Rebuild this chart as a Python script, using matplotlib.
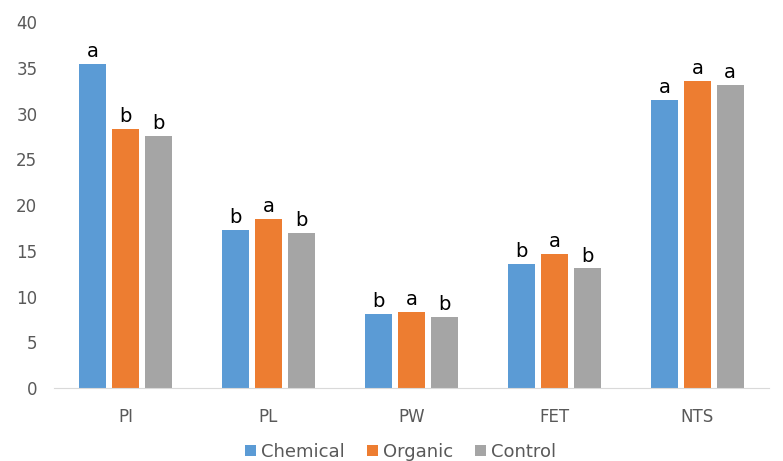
import matplotlib
matplotlib.use('Agg')
from matplotlib import pyplot as plt
import numpy as np

categories = ['PI', 'PL', 'PW', 'FET', 'NTS']
series = ['Chemical', 'Organic', 'Control']
chemical = [35.4, 17.3, 8.1, 13.6, 31.5]
organic = [28.3, 18.5, 8.3, 14.7, 33.6]
control = [27.6, 17.0, 7.8, 13.1, 33.1]
chemical_letters = ['a', 'b', 'b', 'b', 'a']
organic_letters = ['b', 'a', 'a', 'a', 'a']
control_letters = ['b', 'b', 'b', 'b', 'a']

colors = ['#5B9BD5', '#ED7D31', '#A5A5A5']

fig = plt.figure(figsize=(7.83, 4.61), dpi=100)
ax = fig.add_axes([0.069, 0.158, 0.913, 0.794])

x = np.arange(len(categories))
width = 0.185
offsets = [-0.23, 0, 0.23]
data = [chemical, organic, control]
letters = [chemical_letters, organic_letters, control_letters]

for vals, labs, off, col, name in zip(data, letters, offsets, colors, series):
    bars = ax.bar(x + off, vals, width, color=col, label=name)
    for b, lab in zip(bars, labs):
        ax.annotate(lab, (b.get_x() + b.get_width() / 2, b.get_height()),
                    xytext=(0, 2), textcoords='offset points',
                    ha='center', va='bottom', fontsize=14, color='black')

ax.set_xlim(-0.5, len(categories) - 0.5)
ax.set_ylim(0, 40)
ax.set_yticks(range(0, 41, 5))
ax.set_xticks(x)
ax.set_xticklabels(categories)
ax.tick_params(axis='both', length=0, labelsize=12, labelcolor='#595959')
ax.tick_params(axis='x', pad=14)
ax.tick_params(axis='y', pad=12)
for s in ['top', 'right', 'left']:
    ax.spines[s].set_visible(False)
ax.spines['bottom'].set_color('#D9D9D9')

ax.legend(loc='upper center', bbox_to_anchor=(0.485, -0.105), ncol=3, frameon=False,
          fontsize=13, handlelength=0.6, handleheight=0.6, handletextpad=0.3,
          columnspacing=1.2, labelcolor='#595959')

plt.savefig('out.png')
